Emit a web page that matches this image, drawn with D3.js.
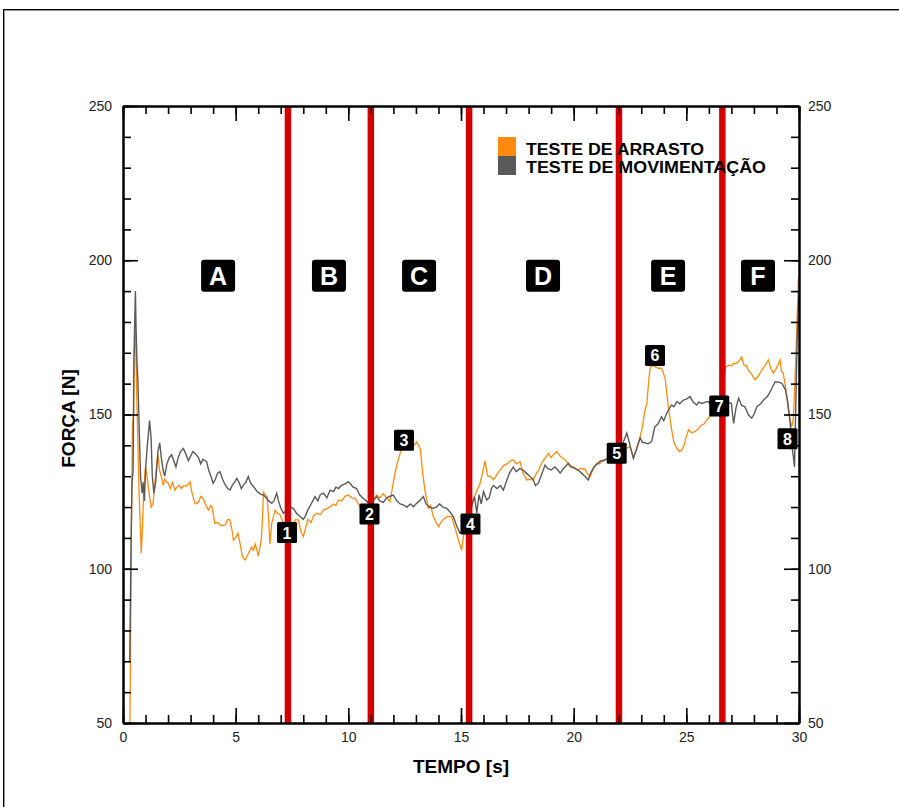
<!DOCTYPE html>
<html>
<head>
<meta charset="utf-8">
<script src="https://cdn.jsdelivr.net/npm/d3@7"></script>
<style>
  body { margin: 0; background: #fff; }
  svg text { font-family: 'Liberation Sans', Arial, sans-serif; }
</style>
</head>
<body>
<script>
// series: [tempo (s), força (N)]
var arrasto = [
  [0.30, 45], [0.33, 70], [0.37, 110], [0.42, 147], [0.47, 150], [0.50, 171], [0.55, 177], [0.60, 160],
  [0.65, 144], [0.72, 123], [0.78, 112], [0.81, 105], [0.86, 113], [0.92, 125], [1.0, 133], [1.05, 131],
  [1.15, 125], [1.25, 120], [1.33, 121], [1.42, 128], [1.5, 134], [1.55, 137], [1.62, 132], [1.7, 130],
  [1.78, 127], [1.85, 129], [1.95, 128], [2.01, 127.7], [2.1, 126], [2.2, 128], [2.3, 125.5], [2.4, 126.5],
  [2.5, 127], [2.6, 126], [2.7, 127], [2.83, 126.8], [2.97, 128.2], [3.05, 125], [3.2, 121], [3.35, 121.5],
  [3.45, 123.5], [3.56, 122.8], [3.65, 121], [3.79, 119], [3.9, 120.5], [3.95, 120], [4.08, 114.7], [4.2, 115],
  [4.35, 114], [4.53, 114.2], [4.65, 116], [4.75, 115.8], [4.85, 112], [4.9, 109.3], [5.0, 110], [5.1, 111.5],
  [5.2, 108], [5.3, 104], [5.42, 102.8], [5.5, 104], [5.6, 105.5], [5.7, 107], [5.8, 106], [5.86, 108],
  [5.95, 106], [6.0, 104], [6.08, 107], [6.15, 110.4], [6.2, 118], [6.23, 125], [6.3, 124], [6.4, 123.3],
  [6.47, 115], [6.52, 108], [6.6, 114.7], [6.75, 119], [6.85, 118], [6.97, 117.5], [7.1, 115], [7.2, 113],
  [7.35, 112], [7.5, 113], [7.65, 116], [7.78, 115.8], [7.9, 112], [8.0, 110.4], [8.1, 113], [8.2, 116],
  [8.35, 115], [8.45, 117], [8.6, 118], [8.75, 117.5], [8.9, 119], [9.05, 119.5], [9.19, 120.1], [9.35, 121],
  [9.45, 120.5], [9.56, 122.3], [9.7, 122], [9.85, 123.5], [10.0, 123.9], [10.15, 123], [10.3, 122.8], [10.45, 121],
  [10.6, 119], [10.75, 118], [10.9, 120], [11.05, 122], [11.26, 123.9], [11.4, 123], [11.55, 124.4], [11.7, 123],
  [11.85, 121.8], [11.95, 126], [12.07, 131], [12.2, 135], [12.3, 137.4], [12.44, 140.7], [12.6, 140], [12.7, 139],
  [12.81, 139.6], [12.92, 140], [13.03, 141.2], [13.12, 140], [13.2, 138.5], [13.3, 131], [13.4, 125.5], [13.55, 119.6],
  [13.65, 120.5], [13.77, 117], [13.9, 115], [14.0, 113.6], [14.1, 115], [14.22, 116], [14.4, 117], [14.59, 116.9],
  [14.7, 114], [14.8, 111.5], [14.9, 109], [15.03, 106], [15.1, 110], [15.2, 114], [15.35, 118], [15.45, 121],
  [15.6, 123.4], [15.75, 126], [15.85, 127.7], [15.95, 131], [16.07, 135], [16.15, 131], [16.2, 129.9], [16.3, 130],
  [16.44, 128.8], [16.55, 130], [16.73, 132], [16.9, 133.5], [17.05, 134], [17.2, 135], [17.32, 135.3], [17.45, 134],
  [17.62, 134.7], [17.75, 131], [17.92, 128.8], [18.05, 129], [18.2, 128.8], [18.35, 131], [18.45, 132], [18.58, 134.2],
  [18.7, 135.5], [18.88, 137.4], [19.0, 136], [19.1, 137], [19.25, 138], [19.4, 136.5], [19.5, 136], [19.62, 135.3],
  [19.75, 134], [19.84, 133], [20.0, 133], [20.14, 132], [20.3, 132.5], [20.5, 132.3], [20.6, 131], [20.73, 129.9],
  [20.85, 132], [21.03, 134.2], [21.15, 134], [21.32, 135.3], [21.45, 135.5], [21.6, 137], [21.76, 138], [21.9, 137],
  [22.05, 138], [22.2, 139], [22.35, 139], [22.5, 139.6], [22.65, 136], [22.8, 139], [22.95, 142.8], [23.05, 146],
  [23.15, 151], [23.25, 153.6], [23.32, 160], [23.39, 165], [23.5, 166], [23.61, 165.5], [23.75, 165], [23.9, 165],
  [24.0, 163], [24.06, 161.7], [24.13, 157], [24.2, 152.5], [24.35, 145], [24.45, 141], [24.58, 139], [24.7, 138],
  [24.8, 138.5], [24.9, 140], [25.0, 143], [25.1, 145], [25.25, 144], [25.4, 144.6], [25.55, 145.5], [25.68, 146.6],
  [25.8, 147], [25.9, 148.2], [26.0, 149], [26.13, 149.8], [26.3, 150.5], [26.5, 152], [26.62, 160], [26.75, 165.5],
  [26.9, 166], [27.0, 165.8], [27.1, 166.6], [27.2, 166.5], [27.3, 167], [27.46, 168.7], [27.55, 166], [27.65, 166],
  [27.75, 164.4], [27.9, 163], [28.05, 161.2], [28.2, 162.5], [28.35, 164.4], [28.5, 166], [28.64, 167.7], [28.75, 165],
  [28.86, 163.4], [29.0, 165], [29.16, 167.7], [29.22, 164], [29.3, 163.4], [29.38, 160], [29.46, 155.8], [29.52, 152],
  [29.6, 148.2], [29.68, 146], [29.75, 149], [29.82, 160], [29.9, 177.4], [29.97, 193.6], [30.0, 195]
]

var movimentacao = [
  [0.30, 70], [0.36, 110], [0.40, 128], [0.45, 132], [0.48, 165], [0.52, 180], [0.55, 190], [0.58, 178],
  [0.62, 167], [0.66, 161], [0.72, 145], [0.78, 130], [0.85, 124.5], [0.9, 128], [0.95, 122], [1.0, 132],
  [1.08, 140], [1.18, 148], [1.25, 142], [1.3, 130], [1.37, 124.5], [1.45, 128], [1.55, 138], [1.63, 140.8],
  [1.7, 136], [1.78, 132], [1.85, 130], [1.95, 134], [2.05, 136], [2.16, 137], [2.25, 135], [2.35, 133],
  [2.45, 136], [2.55, 138], [2.68, 139], [2.8, 137], [2.9, 135], [3.0, 136.5], [3.1, 138], [3.2, 137.4],
  [3.35, 136], [3.45, 134], [3.55, 135.5], [3.71, 134.7], [3.8, 132], [3.9, 130], [4.0, 127.7], [4.1, 129],
  [4.2, 131], [4.3, 131.5], [4.42, 129], [4.55, 127], [4.65, 126], [4.75, 125.5], [4.85, 127], [4.95, 128],
  [5.05, 129.3], [5.15, 128], [5.25, 126], [5.34, 127.1], [5.45, 128], [5.56, 129.9], [5.65, 128], [5.75, 127],
  [5.86, 126], [5.95, 125], [6.05, 124.5], [6.15, 124], [6.23, 123.9], [6.35, 123], [6.47, 122], [6.6, 121.2],
  [6.7, 122], [6.82, 124.5], [6.9, 122], [7.0, 119.7], [7.12, 118], [7.25, 119], [7.4, 120], [7.56, 119.6],
  [7.7, 118], [7.85, 117], [8.0, 116], [8.08, 116.9], [8.2, 119], [8.35, 121], [8.52, 123.4], [8.65, 122],
  [8.75, 124], [8.9, 124.5], [9.05, 123], [9.19, 125.5], [9.35, 125], [9.45, 126.5], [9.56, 126], [9.7, 127],
  [9.85, 127.5], [10.0, 128.2], [10.1, 127.5], [10.2, 126.5], [10.37, 126], [10.5, 124], [10.67, 122.8], [10.8, 122],
  [10.95, 121], [11.1, 122], [11.26, 123.4], [11.4, 122], [11.55, 121.5], [11.7, 123], [11.85, 123.5], [12.0, 123.9],
  [12.15, 122], [12.3, 121], [12.44, 120.7], [12.6, 120], [12.75, 121], [12.89, 120.1], [13.0, 121], [13.15, 122],
  [13.33, 123.4], [13.45, 121], [13.6, 120], [13.77, 119.6], [13.9, 120], [14.05, 121], [14.2, 120], [14.37, 119.6],
  [14.5, 118.5], [14.66, 116.9], [14.8, 114], [14.96, 111.5], [15.1, 112], [15.25, 115], [15.4, 117], [15.5, 121],
  [15.6, 123.4], [15.7, 118], [15.8, 124], [15.9, 121], [16.0, 125], [16.14, 122.3], [16.25, 123], [16.35, 126],
  [16.44, 127], [16.6, 126], [16.75, 127], [16.88, 125.5], [17.0, 128], [17.15, 131], [17.32, 133], [17.45, 131.5],
  [17.6, 132.5], [17.75, 132], [17.9, 131], [18.06, 129.9], [18.2, 129], [18.3, 127], [18.43, 127.7], [18.55, 130],
  [18.73, 133.6], [18.85, 132.5], [19.0, 132], [19.17, 133], [19.3, 132], [19.4, 131], [19.55, 132.5], [19.77, 134.2],
  [19.9, 133], [20.05, 132.5], [20.2, 132], [20.35, 131], [20.5, 130], [20.65, 128.8], [20.75, 131], [20.9, 133],
  [21.05, 134], [21.2, 135], [21.32, 135], [21.45, 135.5], [21.6, 136], [21.76, 136.5], [21.9, 137], [22.05, 138],
  [22.2, 141], [22.36, 144], [22.5, 140], [22.65, 135.8], [22.8, 139], [22.95, 142.4], [23.05, 141], [23.17, 140.8],
  [23.3, 140.5], [23.46, 141.2], [23.6, 146], [23.75, 147], [23.9, 149.3], [24.0, 148], [24.13, 150.4], [24.25, 152],
  [24.35, 153.1], [24.45, 152.5], [24.58, 154.2], [24.7, 153.5], [24.87, 154.7], [25.0, 155], [25.17, 155.8], [25.3, 154],
  [25.46, 153.1], [25.55, 154], [25.68, 153.6], [25.85, 154], [25.98, 154.2], [26.1, 153], [26.25, 152], [26.4, 153],
  [26.6, 153.5], [26.8, 154], [27.0, 153.6], [27.05, 150], [27.1, 147.1], [27.2, 152], [27.32, 155.3], [27.45, 153],
  [27.6, 152.5], [27.75, 150], [27.9, 148.8], [28.0, 150], [28.13, 152.5], [28.3, 153.5], [28.42, 154.7], [28.55, 155.5],
  [28.64, 156.3], [28.8, 158.5], [28.94, 160.6], [29.1, 160.5], [29.24, 160.1], [29.4, 158], [29.5, 154], [29.6, 148],
  [29.68, 140], [29.75, 136.3], [29.8, 133], [29.85, 150], [29.92, 175], [30.0, 190]
]

// section boundaries (s) and section letters
var sectionLines = [7.32, 11.0, 15.36, 22.01, 26.6]
var sectionNames = ['A', 'B', 'C', 'D', 'E', 'F']
var sectionNameT = [4.22, 9.14, 13.14, 18.64, 24.19, 28.18]
var sectionNameF = 195

// numbered events: label, tempo, força
var eventLabels = ['1', '2', '3', '4', '5', '6', '7', '8']
var eventT = [7.28, 10.94, 12.47, 15.42, 21.91, 23.61, 26.46, 29.49]
var eventF = [111.9, 117.9, 141.8, 114.7, 137.6, 169.3, 152.9, 142.3]

var seriesNames = ['TESTE DE ARRASTO', 'TESTE DE MOVIMENTAÇÃO']
var seriesColors = ['#ff8a0d', '#5a5a5a']

var xTicks = [0, 5, 10, 15, 20, 25, 30]
var yTicks = [50, 100, 150, 200, 250]

var width = 899
var height = 807

var svg = d3.select('body').append('svg')
  .attr('width', width)
  .attr('height', height)

// outer frame
svg.append('rect')
  .attr('x', 3.5).attr('y', 9.5)
  .attr('width', 910).attr('height', 820)
  .attr('fill', 'none').attr('stroke', '#000').attr('stroke-width', 1)
svg.append('rect')
  .attr('x', 4.5).attr('y', 10.5)
  .attr('width', 910).attr('height', 820)
  .attr('fill', 'none').attr('stroke', '#999').attr('stroke-width', 1)

var x = d3.scaleLinear().domain([0, 30]).range([123, 799])
var y = d3.scaleLinear().domain([50, 250]).range([723, 106])

// clip the data to the plot box
svg.append('clipPath').attr('id', 'plotClip')
  .append('rect')
  .attr('x', x(0)).attr('y', y(250))
  .attr('width', x(30) - x(0)).attr('height', y(50) - y(250))

var line = d3.line()
  .x(function (d) { return x(d[0]) })
  .y(function (d) { return y(d[1]) })

var plot = svg.append('g').attr('clip-path', 'url(#plotClip)')

plot.append('path')
  .attr('d', line(arrasto))
  .attr('fill', 'none')
  .attr('stroke', seriesColors[0])
  .attr('stroke-width', 1.3)

plot.append('path')
  .attr('d', line(movimentacao))
  .attr('fill', 'none')
  .attr('stroke', seriesColors[1])
  .attr('stroke-width', 1.4)

// red section lines
plot.selectAll('.secLine')
  .data(sectionLines)
  .enter().append('line')
  .attr('class', 'secLine')
  .attr('x1', function (d) { return x(d) })
  .attr('x2', function (d) { return x(d) })
  .attr('y1', y(250))
  .attr('y2', y(50))
  .attr('stroke', '#d40000')
  .attr('stroke-width', 6.5)

// axes: minor ticks first, then major with labels
function styleAxis (g) {
  g.selectAll('path, line').attr('stroke', '#000')
  g.select('.domain').attr('stroke-width', 2)
  g.selectAll('.tick line').attr('stroke-width', 1.6)
  g.selectAll('text')
    .attr('fill', '#222')
    .style('font-size', '14px')
    .style('font-family', "'Liberation Sans', Arial, sans-serif")
}

var xMinor = d3.range(0, 31, 1)
var yMinor = d3.range(50, 251, 10)

svg.append('g').attr('transform', 'translate(0,' + y(50) + ')')
  .call(d3.axisBottom(x).tickValues(xMinor).tickSize(-8).tickSizeOuter(0).tickFormat(''))
  .call(styleAxis)
svg.append('g').attr('transform', 'translate(0,' + y(50) + ')')
  .call(d3.axisBottom(x).tickValues(xTicks).tickSize(-15).tickSizeOuter(0).tickPadding(9).tickFormat(d3.format('d')))
  .call(styleAxis)

svg.append('g').attr('transform', 'translate(0,' + y(250) + ')')
  .call(d3.axisTop(x).tickValues(xMinor).tickSize(-8).tickSizeOuter(0).tickFormat(''))
  .call(styleAxis)
svg.append('g').attr('transform', 'translate(0,' + y(250) + ')')
  .call(d3.axisTop(x).tickValues(xTicks).tickSize(-15).tickSizeOuter(0).tickFormat(''))
  .call(styleAxis)

svg.append('g').attr('transform', 'translate(' + x(0) + ',0)')
  .call(d3.axisLeft(y).tickValues(yMinor).tickSize(-8).tickSizeOuter(0).tickFormat(''))
  .call(styleAxis)
svg.append('g').attr('transform', 'translate(' + x(0) + ',0)')
  .call(d3.axisLeft(y).tickValues(yTicks).tickSize(-15).tickSizeOuter(0).tickPadding(11).tickFormat(d3.format('d')))
  .call(styleAxis)

svg.append('g').attr('transform', 'translate(' + x(30) + ',0)')
  .call(d3.axisRight(y).tickValues(yMinor).tickSize(-8).tickSizeOuter(0).tickFormat(''))
  .call(styleAxis)
svg.append('g').attr('transform', 'translate(' + x(30) + ',0)')
  .call(d3.axisRight(y).tickValues(yTicks).tickSize(-15).tickSizeOuter(0).tickPadding(9).tickFormat(d3.format('d')))
  .call(styleAxis)

// axis titles
svg.append('text')
  .attr('x', (x(0) + x(30)) / 2)
  .attr('y', 773)
  .attr('text-anchor', 'middle')
  .style('font-size', '19px')
  .style('font-weight', 'bold')
  .text('TEMPO [s]')

svg.append('text')
  .attr('transform', 'translate(75,' + ((y(50) + y(250)) / 2 + 4) + ') rotate(-90)')
  .attr('text-anchor', 'middle')
  .style('font-size', '19px')
  .style('font-weight', 'bold')
  .text('FORÇA [N]')

// section letters
var secG = svg.selectAll('.secName')
  .data(sectionNames)
  .enter().append('g')
  .attr('class', 'secName')
  .attr('transform', function (d, i) { return 'translate(' + x(sectionNameT[i]) + ',' + y(sectionNameF) + ')' })
secG.append('rect')
  .attr('x', -17).attr('y', -16)
  .attr('width', 34).attr('height', 32)
  .attr('rx', 3)
  .attr('fill', '#000')
secG.append('text')
  .attr('text-anchor', 'middle')
  .attr('y', 9)
  .attr('fill', '#fff')
  .style('font-size', '25px')
  .style('font-weight', 'bold')
  .text(function (d) { return d })

// numbered events
var evG = svg.selectAll('.evt')
  .data(eventLabels)
  .enter().append('g')
  .attr('class', 'evt')
  .attr('transform', function (d, i) { return 'translate(' + x(eventT[i]) + ',' + y(eventF[i]) + ')' })
evG.append('rect')
  .attr('x', -10).attr('y', -10)
  .attr('width', 20).attr('height', 21)
  .attr('rx', 1.5)
  .attr('fill', '#000')
evG.append('text')
  .attr('text-anchor', 'middle')
  .attr('y', 6.5)
  .attr('fill', '#fff')
  .style('font-size', '16px')
  .style('font-weight', 'bold')
  .text(function (d) { return d })

// legend
var legend = svg.append('g').attr('transform', 'translate(498,137)')
legend.selectAll('rect')
  .data(seriesNames)
  .enter().append('rect')
  .attr('x', 0)
  .attr('y', function (d, i) { return i * 19 })
  .attr('width', 18)
  .attr('height', 19)
  .attr('fill', function (d, i) { return seriesColors[i] })
legend.selectAll('text')
  .data(seriesNames)
  .enter().append('text')
  .attr('x', 28)
  .attr('y', function (d, i) { return 18 + i * 18 })
  .attr('textLength', function (d, i) { return i === 0 ? 178 : 240 })
  .attr('lengthAdjust', 'spacingAndGlyphs')
  .style('font-size', '16px')
  .style('font-weight', 'bold')
  .text(function (d) { return d })
</script>
</body>
</html>
